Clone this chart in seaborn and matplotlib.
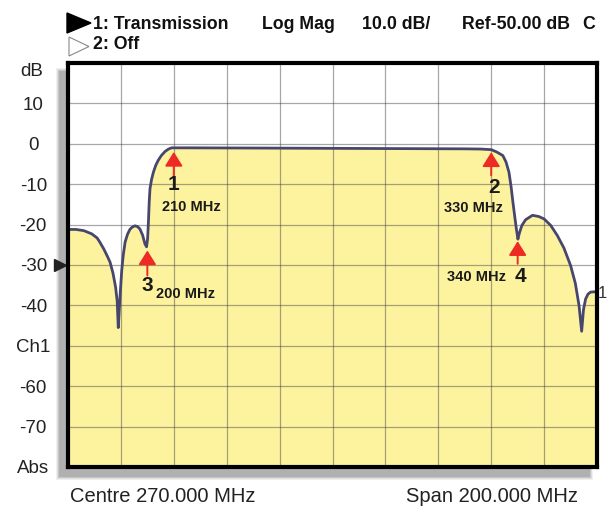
import matplotlib
matplotlib.use("Agg")
import matplotlib.pyplot as plt
import matplotlib.transforms as mtransforms
from matplotlib.patches import Rectangle, Polygon
import seaborn as sns

# Trace (MHz, dB)
freq_mhz = [170.0, 173.0, 176.0, 179.0, 181.0, 182.0, 183.5, 185.0, 185.9, 187.0,
            188.0, 188.6, 189.0, 189.4, 189.7, 190.3, 190.9, 191.6, 192.5, 193.4,
            194.3, 195.3, 196.3, 197.2, 198.2, 199.1, 199.7, 200.1, 200.4, 200.7,
            201.0, 201.6, 202.3, 203.2, 204.1, 205.3, 206.7, 208.0, 209.2, 215.0,
            240.0, 260.0, 280.0, 300.0, 320.0, 326.0, 330.0, 332.0, 334.4, 335.6,
            336.7, 337.5, 338.2, 339.0, 339.5, 340.1, 340.7, 341.6, 343.0, 345.6,
            348.0, 350.0, 352.5, 355.0, 357.5, 360.0, 361.8, 363.2, 364.2, 364.9,
            365.7, 366.6, 367.6, 370.0]
trace_db = [-21.2, -21.2, -21.5, -22.3, -23.3, -24.3, -26.0, -28.0, -29.3, -32.0,
            -35.5, -39.0, -45.5, -41.0, -37.5, -31.5, -27.5, -24.3, -22.4, -21.2,
            -20.6, -20.3, -20.5, -21.1, -22.6, -24.8, -25.5, -23.5, -19.5, -14.5,
            -11.1, -8.8, -7.0, -5.3, -4.1, -2.9, -1.9, -1.3, -1.0, -1.0,
            -1.05, -1.1, -1.15, -1.2, -1.25, -1.3, -1.45, -2.0, -2.9, -4.5,
            -7.0, -10.5, -14.4, -18.5, -21.0, -23.6, -22.0, -20.2, -18.8, -17.7,
            -18.0, -18.6, -20.2, -22.7, -25.8, -30.1, -34.5, -40.0, -46.4, -41.0,
            -38.4, -37.2, -36.7, -36.6]

# Grid / scale
x_ticks = [170, 190, 210, 230, 250, 270, 290, 310, 330, 350, 370]
y_ticks = [-80, -70, -60, -50, -40, -30, -20, -10, 0, 10, 20]
y_labels = ["Abs", "-70", "-60", "Ch1", "-40", "-30", "-20", "-10", "0", "10", ""]

# Markers: number, frequency, arrow tip, arrow tail, label text
marker_ids = ["1", "2", "3", "4"]
marker_freq = [210, 330, 200, 340]
marker_tip = [-2.0, -2.1, -26.4, -24.1]
marker_tail = [-8.5, -7.8, -32.6, -29.7]
marker_text = ["210 MHz", "330 MHz", "200 MHz", "340 MHz"]

W, H = 608, 508
sns.set_theme(style="white")
plt.rcParams["font.family"] = ["Liberation Sans", "DejaVu Sans"]

fig = plt.figure(figsize=(W / 100, H / 100), dpi=100)
fig.patch.set_facecolor("white")


def fx(px):
    return px / W


def fy(py):
    return 1 - py / H


# Axes box in pixels: left 68, right 597, top 63, bottom 467
ax = fig.add_axes([fx(68), fy(467), (597 - 68) / W, (467 - 63) / H])

# drop shadow behind the frame
for i, a in enumerate([0.10, 0.14, 0.20, 0.26]):
    g = 4 - i
    fig.add_artist(Rectangle((fx(60 - g), fy(476 + g)), (529 + 2 * g) / W, (404 + 2 * g) / H,
                             transform=fig.transFigure, facecolor="#707070", alpha=a,
                             edgecolor="none", zorder=-2))

ax.fill_between(freq_mhz, trace_db, -80, color="#fdf39f", zorder=1, lw=0)
sns.lineplot(x=freq_mhz, y=trace_db, ax=ax, color="#47476e", lw=2.0,
             sort=False, estimator=None, zorder=4)

ax.set_xlim(170, 370)
ax.set_ylim(-80, 20)
ax.set_xticks(x_ticks)
ax.set_xticklabels([])
ax.set_yticks(y_ticks)
ax.set_yticklabels(y_labels, fontsize=13.5, color="#222222")
for lab in ax.get_yticklabels():
    lab.set_horizontalalignment("center")
ax.tick_params(axis="y", length=0, pad=25)
ax.tick_params(axis="x", length=0)
ax.set_xlabel("")
ax.set_ylabel("")
ax.grid(True, color="#3a3a3a", alpha=0.45, lw=0.9, zorder=2)
ax.set_axisbelow(False)
for s in ax.spines.values():
    s.set_linewidth(3.0)
    s.set_color("black")
    s.set_zorder(6)

trans = mtransforms.blended_transform_factory(ax.transAxes, ax.transData)
ax.text(-0.068, 17.8, "dB", transform=trans, ha="center", va="center",
        fontsize=13.5, color="#222222")
ax.plot([-0.0142], [-30], marker=">", markersize=8, color="#222222",
        transform=trans, clip_on=False)

# markers
label_pos = {"1": (216.5, -15.7, "center"), "2": (323.4, -15.9, "center"),
             "3": (203.3, -37.2, "left"), "4": (324.3, -32.9, "center")}
num_pos = {"1": (210.0, -10.0), "2": (330.9, -10.7), "3": (199.9, -35.0), "4": (341.1, -32.9)}
for mid, f, tip, tail, txt in zip(marker_ids, marker_freq, marker_tip, marker_tail, marker_text):
    ax.annotate("", xy=(f, tip), xytext=(f, tail),
                arrowprops=dict(arrowstyle="-|>,head_length=0.48,head_width=0.3",
                                color="#ee2a24", lw=1.4, shrinkA=0, shrinkB=0,
                                mutation_scale=18), zorder=7)
    nx, ny = num_pos[mid]
    ax.text(nx, ny, mid, ha="center", va="center", fontsize=15, fontweight="bold",
            color="#1a1a1a", zorder=7)
    lx, ly, ha = label_pos[mid]
    ax.text(lx, ly, txt, ha=ha, va="center", fontsize=10.5, fontweight="bold",
            color="#1a1a1a", zorder=7)

# header lines
fig.add_artist(Polygon([(fx(67), fy(13)), (fx(67), fy(33)), (fx(91), fy(23))],
                       closed=True, transform=fig.transFigure, facecolor="black",
                       edgecolor="black"))
fig.add_artist(Polygon([(fx(69), fy(37)), (fx(69), fy(56)), (fx(89), fy(46.5))],
                       closed=True, transform=fig.transFigure, facecolor="white",
                       edgecolor="#888888", lw=0.8))
hdr_y = fy(24.5)
for xpx, txt in [(93, "1: Transmission"), (262, "Log Mag"), (362, "10.0 dB/"),
                 (462, "Ref-50.00 dB"), (582, "C")]:
    fig.text(fx(xpx), hdr_y, txt, ha="left", va="center", fontsize=12.8,
             fontweight="bold", color="#111111")
fig.text(fx(93), fy(44.5), "2: Off", ha="left", va="center", fontsize=12.8,
         fontweight="bold", color="#111111")

# footer
fig.text(fx(70), fy(497), "Centre 270.000 MHz", ha="left", va="center",
         fontsize=14.5, color="#222222")
fig.text(fx(578), fy(497), "Span 200.000 MHz", ha="right", va="center",
         fontsize=14.5, color="#222222")
fig.text(fx(607), fy(294), "1", ha="right", va="center", fontsize=12, color="#333333")

fig.savefig("out.png", dpi=100)
